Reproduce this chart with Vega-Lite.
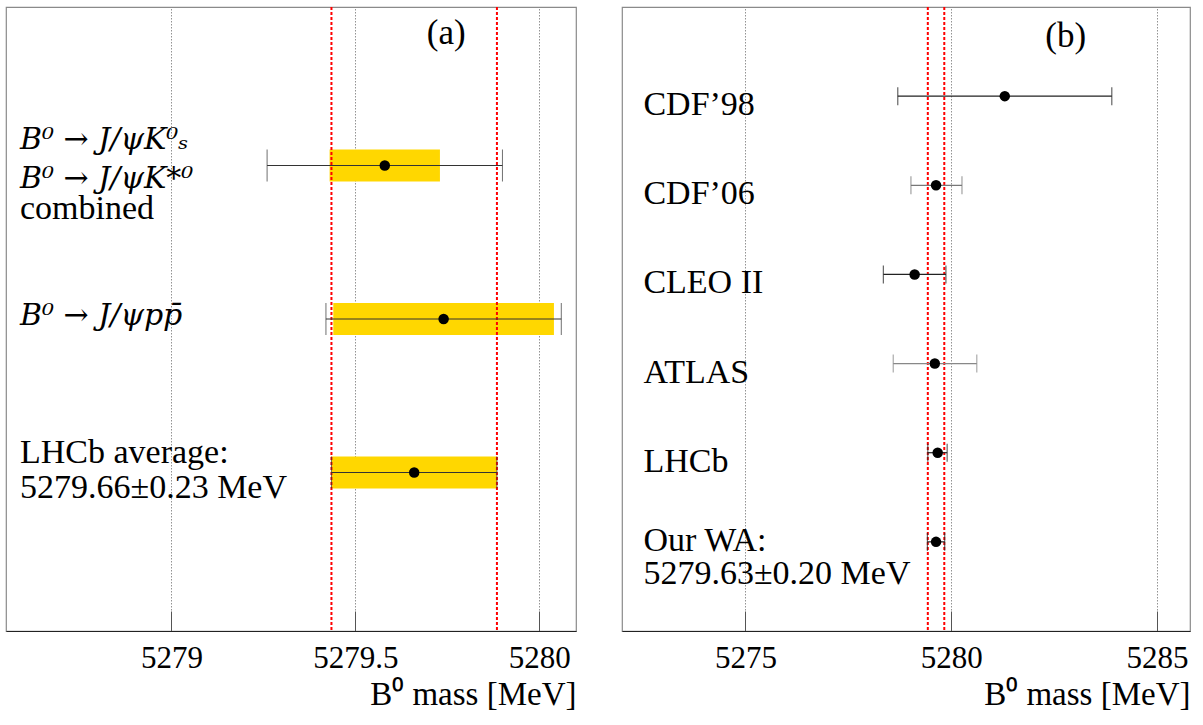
{
  "$schema": "https://vega.github.io/schema/vega-lite/v6.json",
  "padding": {"left": 5, "top": 5, "right": 5, "bottom": 5},
  "spacing": 44,
  "background": "white",
  "config": {
    "font": "Liberation Serif",
    "view": {"stroke": "#8a8a8a", "strokeWidth": 1.2},
    "axisX": {
      "zindex": 1,
      "domainColor": "#222",
      "domainWidth": 1.2,
      "tickColor": "#555",
      "tickWidth": 1,
      "tickSize": -20,
      "labelFont": "Liberation Serif",
      "labelFontSize": 31,
      "labelColor": "#000",
      "labelPadding": 32,
      "grid": true,
      "gridColor": "#777",
      "gridDash": [1.5, 1.5],
      "gridWidth": 0.8,
      "titleFont": "Liberation Serif",
      "titleFontSize": 33,
      "titleFontWeight": "normal",
      "titleColor": "#000",
      "titleAnchor": "end",
      "titlePadding": 5
    }
  },
  "datasets": {
    "pa": [
      {"row": 1, "v": 5279.58, "lo": 5279.26, "hi": 5279.9, "blo": 5279.43, "bhi": 5279.73, "l1": "B⁰ → J/ψK⁰ₛ", "l2": "B⁰ → J/ψK*⁰", "l3": "combined"},
      {"row": 2, "v": 5279.74, "lo": 5279.42, "hi": 5280.06, "blo": 5279.44, "bhi": 5280.04, "l1": "B⁰ → J/ψpp̄", "l2": "", "l3": ""},
      {"row": 3, "v": 5279.66, "lo": 5279.435, "hi": 5279.885, "blo": 5279.435, "bhi": 5279.885, "l1": "LHCb average:", "l2": "5279.66±0.23 MeV", "l3": ""}
    ],
    "red_a": [{"v": 5279.435}, {"v": 5279.885}],
    "pb": [
      {"row": 1, "exp": "CDF98", "v": 5281.3, "lo": 5278.7, "hi": 5283.9, "l1": "CDF’98", "l2": ""},
      {"row": 2, "exp": "CDF06", "v": 5279.63, "lo": 5279.02, "hi": 5280.26, "l1": "CDF’06", "l2": ""},
      {"row": 3, "exp": "CLEO", "v": 5279.11, "lo": 5278.35, "hi": 5279.87, "l1": "CLEO II", "l2": ""},
      {"row": 4, "exp": "ATLAS", "v": 5279.6, "lo": 5278.59, "hi": 5280.62, "l1": "ATLAS", "l2": ""},
      {"row": 5, "exp": "LHCb", "v": 5279.67, "lo": 5279.43, "hi": 5279.9, "l1": "LHCb", "l2": ""},
      {"row": 6, "exp": "WA", "v": 5279.63, "lo": 5279.42, "hi": 5279.84, "l1": "Our WA:", "l2": "5279.63±0.20 MeV"}
    ],
    "red_b": [{"v": 5279.43}, {"v": 5279.83}]
  },
  "hconcat": [
    {
      "width": 570,
      "height": 624,
      "encoding": {
        "x": {"type": "quantitative", "scale": {"domain": [5278.55, 5280.1], "nice": false, "zero": false},
              "axis": {"values": [5279, 5279.5, 5280], "labelExpr": "datum.value + ''", "title": "B⁰ mass [MeV]"}},
        "y": {"type": "quantitative", "scale": {"domain": [0, 4], "reverse": true, "nice": false, "zero": false}, "axis": null}
      },
      "layer": [
        {
          "data": {"name": "pa"},
          "mark": {"type": "bar", "height": 32, "color": "#ffd700"},
          "encoding": {"x": {"field": "blo"}, "x2": {"field": "bhi"}, "y": {"field": "row"}}
        },
        {
          "data": {"name": "red_a"},
          "mark": {"type": "rule", "color": "#f00", "strokeWidth": 2, "strokeDash": [3, 2]},
          "encoding": {"x": {"field": "v"}}
        },
        {
          "data": {"name": "pa"},
          "mark": {"type": "rule", "color": "#333", "strokeWidth": 1},
          "encoding": {"x": {"field": "lo"}, "x2": {"field": "hi"}, "y": {"field": "row"}}
        },
        {
          "data": {"name": "pa"},
          "mark": {"type": "tick", "orient": "vertical", "size": 32, "thickness": 1, "color": "#333"},
          "encoding": {"x": {"field": "lo"}, "y": {"field": "row"}}
        },
        {
          "data": {"name": "pa"},
          "mark": {"type": "tick", "orient": "vertical", "size": 32, "thickness": 1, "color": "#333"},
          "encoding": {"x": {"field": "hi"}, "y": {"field": "row"}}
        },
        {
          "data": {"name": "pa"},
          "mark": {"type": "circle", "size": 110, "color": "#000", "opacity": 1},
          "encoding": {"x": {"field": "v"}, "y": {"field": "row"}}
        },
        {
          "data": {"name": "pa"},
          "transform": [{"filter": "datum.row == 1"}],
          "mark": {"type": "text", "align": "left", "baseline": "alphabetic", "font": "DejaVu Serif", "fontSize": 30, "fontStyle": "italic", "dy": -17, "color": "#000"},
          "encoding": {"x": {"datum": 5278.588}, "y": {"field": "row"}, "text": {"field": "l1"}}
        },
        {
          "data": {"name": "pa"},
          "transform": [{"filter": "datum.row == 1"}],
          "mark": {"type": "text", "align": "left", "baseline": "alphabetic", "font": "DejaVu Serif", "fontSize": 30, "fontStyle": "italic", "dy": 22, "color": "#000"},
          "encoding": {"x": {"datum": 5278.588}, "y": {"field": "row"}, "text": {"field": "l2"}}
        },
        {
          "data": {"name": "pa"},
          "transform": [{"filter": "datum.row == 1"}],
          "mark": {"type": "text", "align": "left", "baseline": "alphabetic", "fontSize": 34, "dy": 53, "color": "#000"},
          "encoding": {"x": {"datum": 5278.588}, "y": {"field": "row"}, "text": {"field": "l3"}}
        },
        {
          "data": {"name": "pa"},
          "transform": [{"filter": "datum.row == 2"}],
          "mark": {"type": "text", "align": "left", "baseline": "alphabetic", "font": "DejaVu Serif", "fontSize": 30, "fontStyle": "italic", "dy": 6, "color": "#000"},
          "encoding": {"x": {"datum": 5278.588}, "y": {"field": "row"}, "text": {"field": "l1"}}
        },
        {
          "data": {"name": "pa"},
          "transform": [{"filter": "datum.row == 3"}],
          "mark": {"type": "text", "align": "left", "baseline": "alphabetic", "fontSize": 34, "dy": -10, "color": "#000"},
          "encoding": {"x": {"datum": 5278.588}, "y": {"field": "row"}, "text": {"field": "l1"}}
        },
        {
          "data": {"name": "pa"},
          "transform": [{"filter": "datum.row == 3"}],
          "mark": {"type": "text", "align": "left", "baseline": "alphabetic", "fontSize": 34, "dy": 25, "color": "#000"},
          "encoding": {"x": {"datum": 5278.588}, "y": {"field": "row"}, "text": {"field": "l2"}}
        },
        {
          "data": {"values": [{"t": "(a)"}]},
          "mark": {"type": "text", "align": "center", "baseline": "middle", "fontSize": 35, "color": "#000"},
          "encoding": {"x": {"datum": 5279.747}, "y": {"datum": 0.14}, "text": {"field": "t"}}
        }
      ]
    },
    {
      "width": 568,
      "height": 624,
      "encoding": {
        "x": {"type": "quantitative", "scale": {"domain": [5272, 5285.8], "nice": false, "zero": false},
              "axis": {"values": [5275, 5280, 5285], "labelExpr": "datum.value + ''", "title": "B⁰ mass [MeV]"}},
        "y": {"type": "quantitative", "scale": {"domain": [0, 7], "reverse": true, "nice": false, "zero": false}, "axis": null}
      },
      "layer": [
        {
          "data": {"name": "red_b"},
          "mark": {"type": "rule", "color": "#f00", "strokeWidth": 2, "strokeDash": [3, 2]},
          "encoding": {"x": {"field": "v"}}
        },
        {
          "data": {"name": "pb"},
          "mark": {"type": "rule", "strokeWidth": 1.2},
          "encoding": {
            "x": {"field": "lo"}, "x2": {"field": "hi"}, "y": {"field": "row"},
            "color": {"field": "exp", "type": "nominal", "legend": null,
                      "scale": {"domain": ["CDF98", "CDF06", "CLEO", "ATLAS", "LHCb", "WA"], "range": ["#222", "#777", "#222", "#888", "#222", "#222"]}}
          }
        },
        {
          "data": {"name": "pb"},
          "mark": {"type": "tick", "orient": "vertical", "size": 18, "thickness": 1.2},
          "encoding": {
            "x": {"field": "lo"}, "y": {"field": "row"},
            "color": {"field": "exp", "type": "nominal", "legend": null,
                      "scale": {"domain": ["CDF98", "CDF06", "CLEO", "ATLAS", "LHCb", "WA"], "range": ["#222", "#777", "#222", "#888", "#222", "#222"]}}
          }
        },
        {
          "data": {"name": "pb"},
          "mark": {"type": "tick", "orient": "vertical", "size": 18, "thickness": 1.2},
          "encoding": {
            "x": {"field": "hi"}, "y": {"field": "row"},
            "color": {"field": "exp", "type": "nominal", "legend": null,
                      "scale": {"domain": ["CDF98", "CDF06", "CLEO", "ATLAS", "LHCb", "WA"], "range": ["#222", "#777", "#222", "#888", "#222", "#222"]}}
          }
        },
        {
          "data": {"name": "pb"},
          "mark": {"type": "circle", "size": 110, "color": "#000", "opacity": 1},
          "encoding": {"x": {"field": "v"}, "y": {"field": "row"}}
        },
        {
          "data": {"name": "pb"},
          "transform": [{"filter": "datum.row <= 5"}],
          "mark": {"type": "text", "align": "left", "baseline": "alphabetic", "fontSize": 34, "dy": 19, "color": "#000"},
          "encoding": {"x": {"datum": 5272.52}, "y": {"field": "row"}, "text": {"field": "l1"}}
        },
        {
          "data": {"name": "pb"},
          "transform": [{"filter": "datum.row == 6"}],
          "mark": {"type": "text", "align": "left", "baseline": "alphabetic", "fontSize": 34, "dy": 9, "color": "#000"},
          "encoding": {"x": {"datum": 5272.52}, "y": {"field": "row"}, "text": {"field": "l1"}}
        },
        {
          "data": {"name": "pb"},
          "transform": [{"filter": "datum.row == 6"}],
          "mark": {"type": "text", "align": "left", "baseline": "alphabetic", "fontSize": 34, "dy": 42, "color": "#000"},
          "encoding": {"x": {"datum": 5272.52}, "y": {"field": "row"}, "text": {"field": "l2"}}
        },
        {
          "data": {"values": [{"t": "(b)"}]},
          "mark": {"type": "text", "align": "center", "baseline": "middle", "fontSize": 35, "color": "#000"},
          "encoding": {"x": {"datum": 5282.78}, "y": {"datum": 0.33}, "text": {"field": "t"}}
        }
      ]
    }
  ]
}
